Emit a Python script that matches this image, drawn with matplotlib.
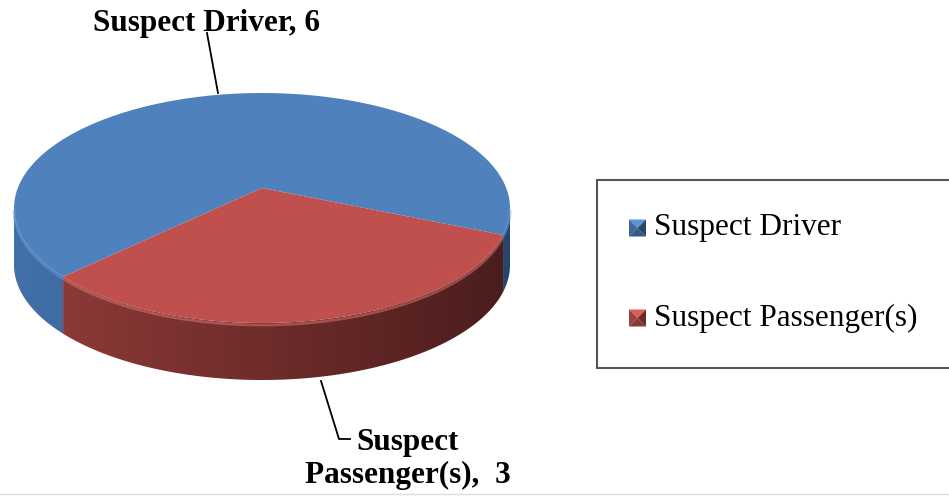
import numpy as np
import matplotlib.pyplot as plt
from matplotlib.patches import Polygon
from matplotlib.colors import LinearSegmentedColormap, to_rgb

# ==================================================
# DADOS
# ==================================================
categorias = ['Suspect Driver', 'Suspect Passenger(s)']
valores = [6, 3]
rotulos = ['Suspect Driver, 6', 'Suspect\nPassenger(s),  3']

# estilos
cores_topo = ['#4F81BD', '#C0504D']
cores_lado = [('#4270A8', '#27446A'), ('#933C3A', '#4A1D1C')]
cores_borda = ['#6A9AD6', '#E07874']

# geometria da pizza em pixels (y para baixo)
CX, CY = 262, 208
A, B = 248, 115
PROF = 57
APICE = (262, 188)
ANG_INICIAL = -19   # graus
PERSPECTIVA = 0.1   # alarga a parte da frente


def persp(theta):
    # ângulo no círculo -> ângulo na elipse da tela
    return theta + np.degrees(PERSPECTIVA * np.cos(np.radians(theta)))


def ponto(phi, desloc=0):
    t = np.radians(phi)
    return CX + A * np.cos(t), CY - B * np.sin(t) + desloc


def arco(p1, p2, desloc=0, n=120):
    ps = np.linspace(p1, p2, n)
    xs, ys = ponto(ps, desloc)
    return np.column_stack([xs, ys])


fig = plt.figure(figsize=(9.49, 4.96), dpi=100)
ax = fig.add_axes([0, 0, 1, 1])
ax.set_xlim(0, 949)
ax.set_ylim(496, 0)
ax.axis('off')

# intervalos angulares das fatias (já na tela)
total = sum(valores)
intervalos = []
ini = ANG_INICIAL
for v in valores:
    fim = ini + 360 * v / total
    intervalos.append((persp(ini), persp(fim)))
    ini = fim

# ==================================================
# LATERAIS (parte visível: 180 a 360 graus)
# ==================================================
for i, (p1, p2) in enumerate(intervalos):
    cmap = LinearSegmentedColormap.from_list('lado', cores_lado[i])
    for k in (-360, 0, 360):
        s = max(p1 + k, 180)
        e = min(p2 + k, 360)
        if e <= s:
            continue
        topo = arco(s, e)
        base = arco(e, s, PROF)
        poly = Polygon(np.vstack([topo, base]), closed=True,
                       facecolor='none', edgecolor='none')
        ax.add_patch(poly)
        grad = np.linspace(0, 1, 256).reshape(1, -1)
        img = ax.imshow(grad, cmap=cmap, aspect='auto',
                        extent=(CX - A, CX + A, CY + B + PROF, CY - B),
                        zorder=1)
        img.set_clip_path(poly)

# ==================================================
# TOPO
# ==================================================
for i, (p1, p2) in enumerate(intervalos):
    pts = np.vstack([[APICE], arco(p1, p2)])
    ax.add_patch(Polygon(pts, closed=True, facecolor=cores_topo[i],
                         edgecolor='none', zorder=2))
    # brilho na borda frontal
    for k in (-360, 0, 360):
        s = max(p1 + k, 180)
        e = min(p2 + k, 360)
        if e > s:
            borda = arco(s, e, 2)
            ax.plot(borda[:, 0], borda[:, 1], color=cores_borda[i],
                    lw=2, alpha=0.5, zorder=3, solid_capstyle='butt')

# ==================================================
# RÓTULOS
# ==================================================
fonte = 'Liberation Serif'
ax.text(207, 24, rotulos[0], ha='center', va='center', fontsize=22.5,
        fontweight='bold', fontfamily=fonte)
ax.plot([207, 218], [33, 93], color='black', lw=1.3)

ax.text(408, 459, rotulos[1], ha='center', va='center', fontsize=22.5,
        fontweight='bold', fontfamily=fonte, linespacing=1.15)
ax.plot([321, 339, 350], [381, 439, 439], color='black', lw=1.3)

# ==================================================
# LEGENDA
# ==================================================
ax.add_patch(plt.Rectangle((597, 180), 360, 188, facecolor='white',
                           edgecolor='#555555', lw=1.5, zorder=4))
leg_y = [228, 318]
for i, nome in enumerate(categorias):
    lado = 17
    x0, y0 = 629, leg_y[i] - lado / 2
    c = np.array(to_rgb(cores_topo[i]))
    centro = (x0 + lado / 2, y0 + lado / 2)
    cantos = [(x0, y0), (x0 + lado, y0), (x0 + lado, y0 + lado), (x0, y0 + lado)]
    fatores = [1.15, 0.55, 0.7, 0.8]  # topo, direita, base, esquerda
    for j in range(4):
        tri = [cantos[j], cantos[(j + 1) % 4], centro]
        ax.add_patch(Polygon(tri, closed=True,
                             facecolor=np.clip(c * fatores[j], 0, 1),
                             edgecolor='none', zorder=5))
    ax.text(654, leg_y[i], nome, ha='left', va='center', fontsize=22.5,
            fontfamily=fonte, zorder=5)

ax.axhline(494, color='#dddddd', lw=1)

fig.savefig('out.png', dpi=100)
